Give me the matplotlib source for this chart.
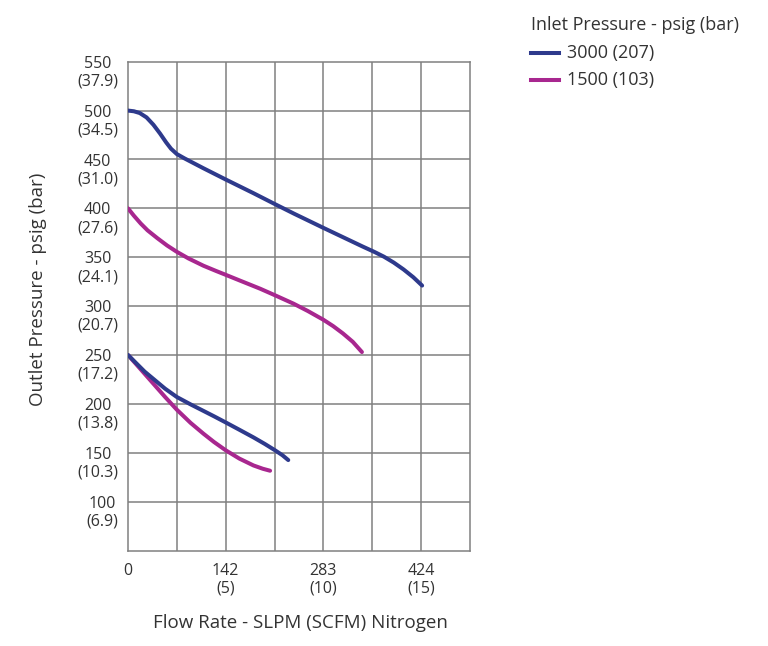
import matplotlib
matplotlib.use("Agg")
import matplotlib.pyplot as plt
from matplotlib.lines import Line2D
from matplotlib.transforms import ScaledTranslation

plt.rcParams['font.family'] = ['Open Sans', 'DejaVu Sans']

# ---- data (x in SCFM, y in psig) ----
series_labels = ["3000 (207)", "1500 (103)"]
series_colors = ["#2E3A8C", "#A8278F"]

x_3000_high = [0, 0.3, 0.6, 0.95, 1.3, 1.64, 1.95, 2.2, 2.5, 2.9, 3.86, 5.0, 6.42, 7.5, 8.5, 10.0, 11.0, 12.0, 12.6, 13.1, 13.6, 14.1, 14.6, 15.05]
y_3000_high = [500, 499.3, 497.5, 493, 485.5, 476.5, 467.5, 461, 455.5, 451, 441, 429.5, 415.5, 404.5, 394.5, 380, 370.5, 361, 355.5, 350.5, 344.5, 337.5, 329.5, 321]

x_1500_high = [0, 0.3, 0.65, 1.0, 1.5, 2.0, 2.5, 3.1, 3.86, 4.5, 5.0, 5.74, 6.76, 7.53, 8.47, 9.2, 10.0, 10.5, 11.0, 11.5, 11.97]
y_1500_high = [400, 392.5, 384.5, 377.5, 369.5, 362, 355.5, 348.7, 341.3, 336, 332, 326, 317.8, 311, 302.5, 295, 286, 279.5, 272, 263.5, 253]

x_3000_low = [0, 0.4, 0.85, 1.3, 1.9, 2.5, 3.2, 3.86, 4.4, 5.0, 5.7, 6.42, 7.0, 7.5, 7.9, 8.2]
y_3000_low = [250, 242, 233, 225.5, 215.5, 207, 199.5, 192.8, 187.3, 181, 173.5, 165.7, 159, 152.8, 147.5, 142.5]

x_1500_low = [0, 0.4, 0.85, 1.3, 1.9, 2.5, 3.2, 3.86, 4.4, 5.0, 5.7, 6.42, 6.9, 7.27]
y_1500_low = [250, 241, 230.8, 220.6, 207, 194, 180.6, 169.5, 161, 152.5, 144, 137, 133.6, 131.6]

x_ticks = [0, 5, 10, 15]
x_tick_labels = ["0", "142\n(5)", "283\n(10)", "424\n(15)"]
y_ticks = [100, 150, 200, 250, 300, 350, 400, 450, 500, 550]
y_tick_labels = ["100\n(6.9)", "150\n(10.3)", "200\n(13.8)", "250\n(17.2)", "300\n(20.7)",
                 "350\n(24.1)", "400\n(27.6)", "450\n(31.0)", "500\n(34.5)", "550\n(37.9)"]
x_grid = [2.5, 5, 7.5, 10, 12.5, 15]
y_grid = [100, 150, 200, 250, 300, 350, 400, 450, 500]

x_label = "Flow Rate - SLPM (SCFM) Nitrogen"
y_label = "Outlet Pressure - psig (bar)"
legend_title = "Inlet Pressure - psig (bar)"

# ---- figure ----
W, H = 768, 646
fig = plt.figure(figsize=(W / 100, H / 100), dpi=100)
ax = fig.add_axes([128 / W, 1 - 550.5 / H, (470 - 128) / W, (550.5 - 61.7) / H])

text_color = "#333333"
grid_color = "#808080"

ax.set_xlim(0, 17.5)
ax.set_ylim(50, 550)

for gx in x_grid:
    ax.axvline(gx, color=grid_color, lw=1.1, zorder=1)
for gy in y_grid:
    ax.axhline(gy, color=grid_color, lw=1.1, zorder=1)
for sp in ax.spines.values():
    sp.set_color(grid_color)
    sp.set_linewidth(1.1)

lw = 2.9
style = dict(lw=lw, solid_capstyle='round', solid_joinstyle='round')
ax.plot(x_3000_high, y_3000_high, color=series_colors[0], zorder=3, **style)
ax.plot(x_3000_low, y_3000_low, color=series_colors[0], zorder=3, **style)
ax.plot(x_1500_high, y_1500_high, color=series_colors[1], zorder=3, **style)
ax.plot(x_1500_low, y_1500_low, color=series_colors[1], zorder=2, **style)

ax.set_xticks(x_ticks)
ax.set_xticklabels(x_tick_labels, fontsize=11.5, color=text_color, multialignment='center', linespacing=1.15)
ax.set_yticks(y_ticks)
ax.set_yticklabels(y_tick_labels, fontsize=11.5, color=text_color, multialignment='center', linespacing=1.15)
ax.tick_params(axis='both', length=0)
ax.tick_params(axis='x', pad=9)
ax.tick_params(axis='y', pad=7)

off = ScaledTranslation(0, -0.11, fig.dpi_scale_trans)
for lab in ax.get_yticklabels():
    lab.set_verticalalignment('center')
    lab.set_transform(lab.get_transform() + off)

fig.text(300 / W, 1 - 623 / H, x_label, ha='center', va='center', fontsize=13.5, color=text_color)
fig.text(38 / W, 1 - 289 / H, y_label, ha='center', va='center', rotation=90, fontsize=13.5, color=text_color)

# legend
fig.text(531 / W, 1 - 25 / H, legend_title, ha='left', va='center', fontsize=13, color=text_color)
for i, (lab, col) in enumerate(zip(series_labels, series_colors)):
    yy = 1 - (53 + 27 * i) / H
    fig.add_artist(Line2D([531 / W, 559 / W], [yy, yy], color=col, lw=2.9, transform=fig.transFigure))
    fig.text(567 / W, yy, lab, ha='left', va='center', fontsize=13, color=text_color)

fig.savefig("out.png", dpi=100)
